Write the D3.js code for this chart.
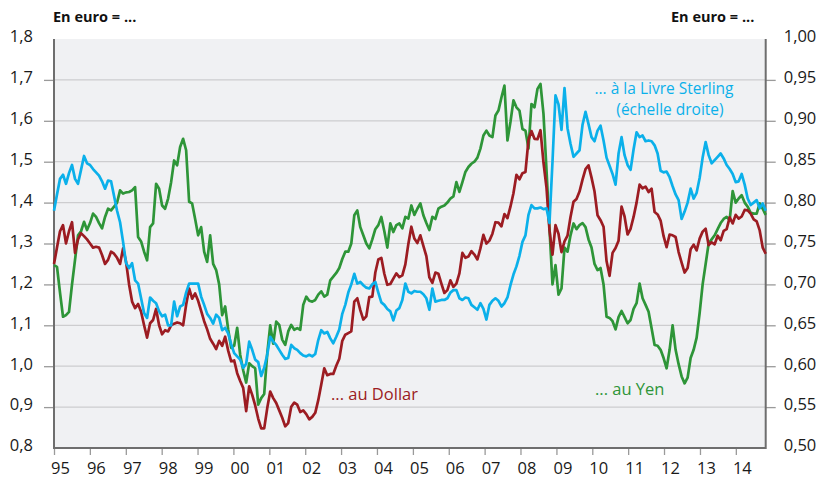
<!DOCTYPE html>
<html><head><meta charset="utf-8">
<script src="https://cdn.jsdelivr.net/npm/d3@7"></script>
<style>
body{margin:0;background:#fff}
svg text{font-family:"Open Sans",sans-serif}
</style></head>
<body>
<svg id="c" width="823" height="479"></svg>
<script>
// Monthly data, Jan 1995 .. Oct 2014
const firstMonth = "1995-01";
const yearLabels = ["95","96","97","98","99","00","01","02","03","04","05","06","07","08","09","10","11","12","13","14"];
const leftTicks = [0.8,0.9,1.0,1.1,1.2,1.3,1.4,1.5,1.6,1.7,1.8];
const rightTicks = [0.50,0.55,0.60,0.65,0.70,0.75,0.80,0.85,0.90,0.95,1.00];

// EUR in USD (left scale)
const dollar = [
1.25,1.29,1.33,1.345,1.30,1.33,1.352,1.277,1.31,1.325,1.318,1.31,
1.30,1.29,1.292,1.29,1.272,1.25,1.26,1.28,1.275,1.265,1.25,1.288,
1.255,1.20,1.158,1.142,1.152,1.133,1.10,1.07,1.105,1.113,1.14,1.10,
1.078,1.088,1.085,1.10,1.104,1.107,1.105,1.10,1.15,1.19,1.165,1.178,
1.16,1.135,1.11,1.09,1.067,1.055,1.042,1.062,1.05,1.072,1.038,1.012,
1.014,0.983,0.964,0.947,0.890,0.951,0.930,0.904,0.872,0.848,0.848,0.897,
0.938,0.922,0.910,0.892,0.874,0.853,0.861,0.901,0.911,0.906,0.888,0.892,
0.883,0.870,0.876,0.886,0.917,0.955,0.995,0.978,0.981,0.981,1.001,1.018,
1.062,1.077,1.081,1.085,1.158,1.166,1.137,1.114,1.122,1.169,1.170,1.229,
1.261,1.265,1.226,1.199,1.201,1.214,1.227,1.218,1.222,1.249,1.299,1.341,
1.312,1.301,1.320,1.294,1.269,1.217,1.204,1.229,1.226,1.202,1.179,1.186,
1.210,1.194,1.202,1.227,1.277,1.265,1.268,1.281,1.273,1.261,1.288,1.321,
1.300,1.307,1.324,1.352,1.351,1.342,1.372,1.362,1.390,1.423,1.468,1.457,
1.472,1.475,1.553,1.575,1.556,1.555,1.577,1.498,1.437,1.332,1.273,1.345,
1.324,1.279,1.305,1.319,1.365,1.402,1.409,1.427,1.456,1.482,1.491,1.461,
1.427,1.369,1.357,1.341,1.257,1.221,1.277,1.289,1.307,1.390,1.366,1.322,
1.336,1.365,1.400,1.444,1.435,1.439,1.426,1.434,1.377,1.371,1.356,1.318,
1.291,1.322,1.320,1.316,1.279,1.253,1.229,1.240,1.286,1.297,1.283,1.312,
1.329,1.336,1.296,1.303,1.298,1.319,1.308,1.331,1.335,1.364,1.349,1.370,
1.361,1.366,1.382,1.381,1.373,1.359,1.354,1.332,1.290,1.275];

// EUR in JPY / 100 (left scale)
const yen = [
1.247,1.243,1.18,1.121,1.125,1.133,1.20,1.26,1.32,1.33,1.353,1.333,
1.35,1.373,1.365,1.35,1.337,1.365,1.385,1.381,1.39,1.40,1.43,1.422,
1.425,1.426,1.43,1.438,1.316,1.305,1.28,1.259,1.340,1.349,1.446,1.434,
1.393,1.385,1.41,1.45,1.503,1.491,1.536,1.556,1.528,1.402,1.398,1.36,
1.32,1.34,1.28,1.255,1.32,1.25,1.235,1.20,1.125,1.146,1.09,1.045,
1.05,1.094,1.028,0.99,0.96,1.007,1.0,0.995,0.906,0.922,0.932,1.03,
1.10,1.055,1.109,1.101,1.065,1.052,1.085,1.101,1.089,1.093,1.089,1.150,
1.17,1.16,1.158,1.162,1.175,1.183,1.17,1.175,1.21,1.219,1.228,1.24,
1.262,1.28,1.28,1.30,1.369,1.381,1.34,1.32,1.30,1.288,1.31,1.335,
1.345,1.365,1.33,1.29,1.349,1.328,1.345,1.349,1.337,1.365,1.361,1.393,
1.37,1.385,1.398,1.369,1.35,1.333,1.365,1.36,1.385,1.39,1.393,1.40,
1.41,1.415,1.45,1.426,1.45,1.475,1.487,1.495,1.50,1.51,1.532,1.564,
1.576,1.564,1.56,1.613,1.625,1.657,1.686,1.552,1.597,1.65,1.633,1.625,
1.58,1.576,1.532,1.641,1.633,1.678,1.69,1.617,1.48,1.337,1.20,1.247,
1.175,1.19,1.29,1.28,1.32,1.349,1.335,1.345,1.35,1.34,1.31,1.29,
1.25,1.235,1.24,1.20,1.121,1.118,1.11,1.09,1.12,1.135,1.12,1.105,
1.113,1.14,1.154,1.202,1.166,1.15,1.133,1.093,1.052,1.05,1.04,1.02,
0.995,1.04,1.10,1.04,1.005,0.975,0.958,0.972,1.02,1.04,1.07,1.13,
1.20,1.25,1.30,1.31,1.32,1.335,1.35,1.36,1.365,1.357,1.428,1.40,
1.41,1.418,1.40,1.39,1.375,1.373,1.373,1.398,1.385,1.37];

// EUR in GBP (right scale)
const sterling = [
0.790,0.810,0.829,0.834,0.823,0.836,0.846,0.829,0.823,0.840,0.857,0.848,
0.846,0.841,0.837,0.833,0.826,0.817,0.827,0.826,0.808,0.790,0.776,0.752,
0.726,0.720,0.726,0.705,0.701,0.683,0.665,0.659,0.684,0.680,0.677,0.667,
0.661,0.663,0.650,0.650,0.679,0.661,0.673,0.675,0.690,0.701,0.701,0.701,
0.701,0.685,0.675,0.664,0.659,0.652,0.663,0.659,0.644,0.647,0.640,0.627,
0.616,0.612,0.608,0.598,0.603,0.630,0.620,0.608,0.605,0.588,0.598,0.614,
0.636,0.630,0.626,0.620,0.614,0.609,0.610,0.626,0.622,0.620,0.616,0.613,
0.612,0.614,0.612,0.615,0.632,0.644,0.640,0.642,0.634,0.628,0.636,0.645,
0.664,0.675,0.690,0.700,0.713,0.701,0.703,0.699,0.696,0.695,0.700,0.703,
0.690,0.678,0.675,0.670,0.667,0.656,0.668,0.671,0.681,0.701,0.691,0.689,
0.692,0.691,0.691,0.688,0.683,0.669,0.695,0.679,0.680,0.681,0.681,0.683,
0.690,0.693,0.693,0.683,0.681,0.684,0.683,0.675,0.672,0.669,0.677,0.670,
0.657,0.675,0.680,0.683,0.680,0.673,0.677,0.684,0.699,0.712,0.722,0.735,
0.752,0.760,0.785,0.797,0.793,0.793,0.794,0.792,0.793,0.775,0.850,0.931,
0.920,0.889,0.940,0.891,0.872,0.856,0.860,0.864,0.895,0.911,0.896,0.880,
0.875,0.888,0.894,0.876,0.855,0.845,0.835,0.822,0.860,0.880,0.858,0.846,
0.840,0.865,0.886,0.880,0.882,0.875,0.876,0.875,0.870,0.860,0.839,0.837,
0.838,0.831,0.820,0.810,0.803,0.780,0.789,0.800,0.817,0.805,0.812,0.830,
0.855,0.874,0.858,0.848,0.852,0.856,0.860,0.854,0.846,0.841,0.835,0.825,
0.826,0.835,0.822,0.805,0.797,0.800,0.803,0.793,0.799,0.790];

const L = 54, R = 765.7, T = 39, B = 448;
const svg = d3.select("#c");
const loc = d3.formatLocale({decimal: ",", thousands: " ", grouping: [3], currency: ["", " €"]});
const f1 = loc.format(".1f"), f2 = loc.format(".2f");

const xIdx = d3.scaleLinear().domain([0, dollar.length - 1]).range([L, R]);
const x0 = d3.timeParse("%Y-%m")(firstMonth);
const xTime = d3.scaleTime().domain([x0, d3.timeMonth.offset(x0, 238)]).range([L, R]);
const yL = d3.scaleLinear().domain([0.8, 1.8]).range([B, T]);
const yR = d3.scaleLinear().domain([0.5, 1.0]).range([B, T]);

// plot background
svg.append("rect").attr("x", L).attr("y", T).attr("width", R - L).attr("height", B - T).attr("fill", "#f0f1f3");

// gridlines
svg.append("g").selectAll("line").data(leftTicks.slice(1, -1)).join("line")
  .attr("x1", L).attr("x2", R).attr("y1", d => yL(d)).attr("y2", d => yL(d))
  .attr("stroke", "#cdcdcf").attr("stroke-width", 1.2);

// axes
const axL = svg.append("g").attr("transform", `translate(${L},0)`)
  .call(d3.axisLeft(yL).tickValues(leftTicks).tickSize(10).tickPadding(11).tickFormat(f1));
const axR = svg.append("g").attr("transform", `translate(${R},0)`)
  .call(d3.axisRight(yR).tickValues(rightTicks).tickSize(10).tickPadding(8).tickFormat(f2));
const yearDates = yearLabels.map((s, i) => d3.timeYear.offset(x0, i));
const axB = svg.append("g").attr("transform", `translate(0,${B})`)
  .call(d3.axisBottom(xTime).tickValues(yearDates).tickSize(7).tickFormat((d, i) => yearLabels[i]));

[axL, axR, axB].forEach(a => {
  a.select(".domain").remove();
  a.selectAll(".tick line").attr("stroke", "#9a9a9a").attr("stroke-width", 1.3);
  a.selectAll(".tick text").attr("fill", "#1a1a1a").style("font-size", "16.5px");
});
axL.selectAll(".tick text").attr("dy", "0.17em");
axR.selectAll(".tick text").attr("dy", "0.17em");
axB.selectAll(".tick text").attr("y", 26).attr("dy", null).attr("x", 6);
axL.selectAll(".tick").filter(d => d === 1.8 || d === 0.8).select("line").remove();
axR.selectAll(".tick").filter(d => d === 1.0 || d === 0.5).select("line").remove();

// frame lines (left, bottom, right)
svg.append("path")
  .attr("d", `M${L},${T}V${B}H${R}V${T}`)
  .attr("fill", "none").attr("stroke", "#6e6e6e").attr("stroke-width", 2);

// series
const lineL = d3.line().x((d, i) => xIdx(i)).y(d => yL(d));
const lineR = d3.line().x((d, i) => xIdx(i)).y(d => yR(d));
const g = svg.append("g").attr("fill", "none").attr("stroke-width", 2.7).attr("stroke-linejoin", "round");
g.append("path").datum(yen).attr("d", lineL).attr("stroke", "#2e9538");
g.append("path").datum(dollar).attr("d", lineL).attr("stroke", "#9c1c22");
g.append("path").datum(sterling).attr("d", lineR).attr("stroke", "#0bb0ea");

// titles
svg.append("text").attr("x", 53).attr("y", 21.5).text("En euro = ...")
  .style("font-size", "14.5px").style("font-weight", "700").attr("fill", "#111");
svg.append("text").attr("x", 671).attr("y", 21.5).text("En euro = ...")
  .style("font-size", "14.5px").style("font-weight", "700").attr("fill", "#111");

// annotations
svg.append("text").attr("x", 664).attr("y", 93.5).attr("text-anchor", "middle")
  .text("... à la Livre Sterling").style("font-size", "15.5px").attr("fill", "#0bb0ea");
svg.append("text").attr("x", 670).attr("y", 115).attr("text-anchor", "middle")
  .text("(échelle droite)").style("font-size", "15.5px").attr("fill", "#0bb0ea");
svg.append("text").attr("x", 331).attr("y", 400).text("... au Dollar")
  .style("font-size", "16.5px").attr("fill", "#9c1c22");
svg.append("text").attr("x", 595).attr("y", 394.5).text("... au Yen")
  .style("font-size", "16.5px").attr("fill", "#2e9538");
</script>
</body></html>
